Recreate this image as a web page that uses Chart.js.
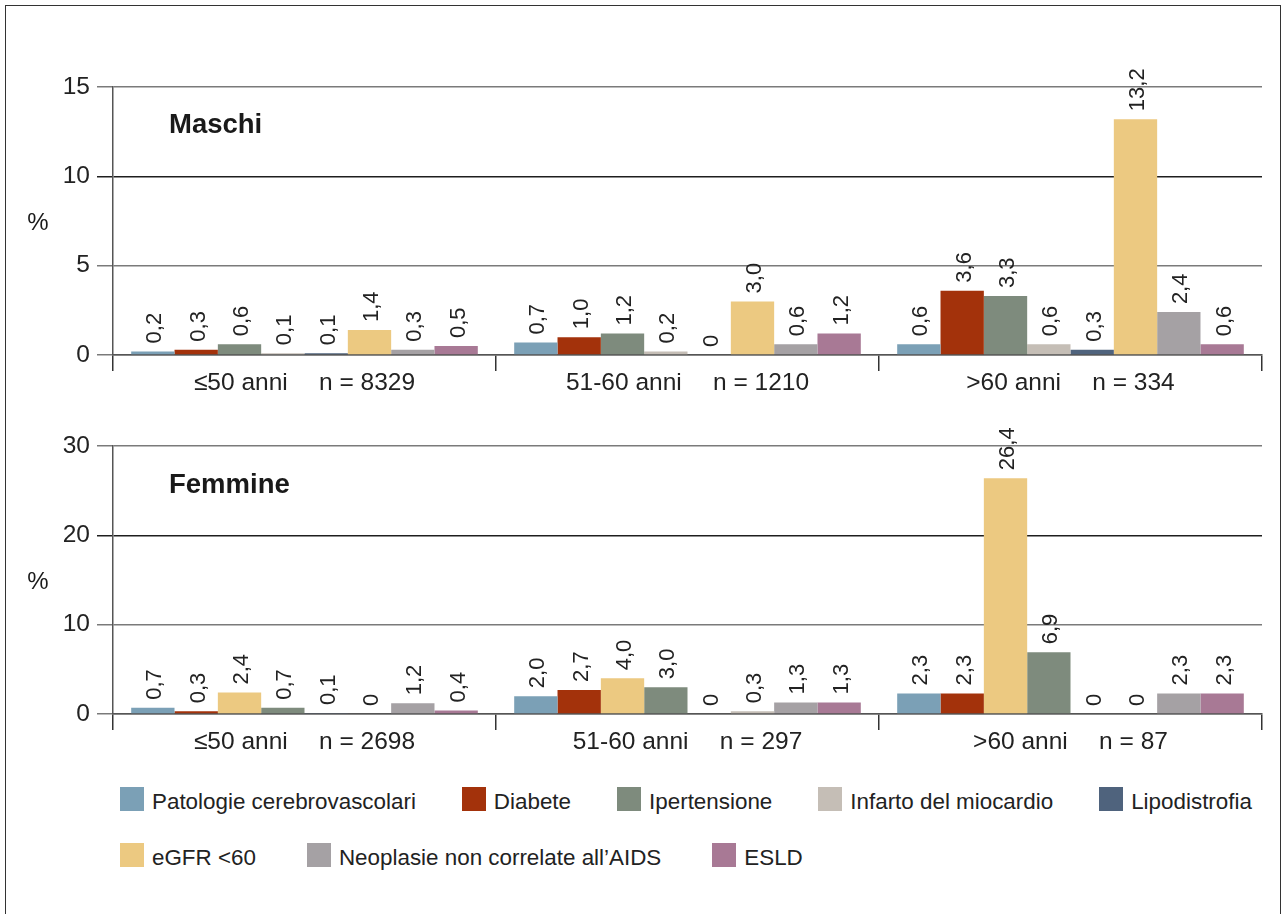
<!DOCTYPE html>
<html lang="it">
<head>
<meta charset="utf-8">
<title>Comorbidità per sesso ed età</title>
<script src="https://cdn.jsdelivr.net/npm/chart.js@4.4.1/dist/chart.umd.min.js"></script>
<style>
  html, body { margin: 0; padding: 0; background: #fff; overflow: hidden; }
  body { width: 1282px; height: 914px; position: relative; font-family: "Liberation Sans", Arial, Helvetica, sans-serif; color: #222; }
  .frame { position: absolute; left: 5px; top: 5px; width: 1276px; height: 1000px; border: 1.5px solid #333; box-sizing: border-box; }
  .box { position: absolute; left: 0; width: 1282px; }
  #boxM { top: 0; height: 400px; }
  #boxF { top: 400px; height: 360px; }
  #legend { position: absolute; left: 120px; top: 787px; width: 1150px; display: flex; flex-wrap: wrap; column-gap: 46px; row-gap: 32px; }
  #legend .item { display: flex; align-items: flex-start; height: 24px; font-size: 22.4px; line-height: 24px; white-space: nowrap; }
  #legend .swatch { width: 24px; height: 24px; margin-right: 8px; }
  #legend .txt { position: relative; top: 3px; }
  #legend .item.r2 { margin-right: 5px; }
</style>
</head>
<body>
<div class="frame"></div>
<div class="box" id="boxM"><canvas id="chartM"></canvas></div>
<div class="box" id="boxF"><canvas id="chartF"></canvas></div>
<div id="legend"></div>

<script>
// fasce d'età e numerosità
const ageGroups = ["≤50 anni", "51-60 anni", ">60 anni"];
const nMaschi = [8329, 1210, 334];
const nFemmine = [2698, 297, 87];

const diseases = [
  "Patologie cerebrovascolari",
  "Diabete",
  "Ipertensione",
  "Infarto del miocardio",
  "Lipodistrofia",
  "eGFR <60",
  "Neoplasie non correlate all’AIDS",
  "ESLD"
];
const colors = ["#7ba0b6", "#a3320b", "#7e8b7d", "#c5beb6", "#4f637d", "#ecc981", "#a5a1a4", "#a87995"];

// Maschi (%)
const patologieM = [0.2, 0.7, 0.6];
const diabeteM = [0.3, 1.0, 3.6];
const ipertensioneM = [0.6, 1.2, 3.3];
const infartoM = [0.1, 0.2, 0.6];
const lipodistrofiaM = [0.1, 0, 0.3];
const egfrM = [1.4, 3.0, 13.2];
const neoplasieM = [0.3, 0.6, 2.4];
const esldM = [0.5, 1.2, 0.6];

// Femmine (%)
const patologieF = [0.7, 2.0, 2.3];
const diabeteF = [0.3, 2.7, 2.3];
const ipertensioneF = [0.7, 3.0, 6.9];
const infartoF = [0, 0.3, 0];
const lipodistrofiaF = [0.1, 0, 0];
const egfrF = [2.4, 4.0, 26.4];
const neoplasieF = [1.2, 1.3, 2.3];
const esldF = [0.4, 1.3, 2.3];

const yTicksM = [0, 5, 10, 15];
const yTicksF = [0, 10, 20, 30];

const FONT = '"Liberation Sans", Arial, Helvetica, sans-serif';
Chart.defaults.font.family = FONT;
Chart.defaults.color = "#222";
Chart.defaults.animation = false;

function ds(i, data) {
  return { label: diseases[i], data, backgroundColor: colors[i], borderWidth: 0,
           categoryPercentage: 0.905, barPercentage: 1.0 };
}

function fmt(v) {
  return v === 0 ? "0" : v.toFixed(1).replace(".", ",");
}

// etichette ruotate sopra le barre
const valueLabels = {
  id: "valueLabels",
  afterDatasetsDraw(chart) {
    const ctx = chart.ctx;
    ctx.save();
    ctx.font = "22px " + FONT;
    ctx.fillStyle = "#222";
    ctx.textAlign = "left";
    ctx.textBaseline = "middle";
    chart.data.datasets.forEach((d, di) => {
      chart.getDatasetMeta(di).data.forEach((bar, i) => {
        ctx.save();
        ctx.translate(bar.x + 2.5, bar.y - 8);
        ctx.rotate(-Math.PI / 2);
        ctx.fillText(fmt(d.data[i]), 0, 0);
        ctx.restore();
      });
    });
    ctx.restore();
  }
};

// titolo del pannello e simbolo %
const panelText = {
  id: "panelText",
  afterDraw(chart, args, opts) {
    const ctx = chart.ctx, a = chart.chartArea;
    ctx.save();
    ctx.fillStyle = "#1a1a1a";
    ctx.font = "bold 27.5px " + FONT;
    ctx.textAlign = "left";
    ctx.textBaseline = "alphabetic";
    ctx.fillText(opts.title, a.left + 56, a.top + opts.titleOffset);
    ctx.font = "24px " + FONT;
    ctx.textAlign = "center";
    ctx.textBaseline = "middle";
    ctx.fillText("%", 38, (a.top + a.bottom) / 2 + 2);
    ctx.restore();
  }
};

function makeChart(id, datasets, counts, ticks, title, topPad, xHeight, titleOffset) {
  const yMax = ticks[ticks.length - 1];
  const darkTick = ticks[2];
  return new Chart(document.getElementById(id), {
    type: "bar",
    data: {
      labels: ageGroups.map((g, i) => g + "\u2003 n = " + counts[i]),
      datasets
    },
    options: {
      responsive: true,
      maintainAspectRatio: false,
      layout: { padding: { left: 5, right: 20, top: topPad, bottom: 0 } },
      plugins: {
        legend: { display: false },
        tooltip: { enabled: false },
        panelText: { title, titleOffset }
      },
      scales: {
        x: {
          grid: { drawOnChartArea: false, drawTicks: true, tickLength: 16, offset: true, color: "#333", lineWidth: 1.5 },
          border: { display: true, color: "#555", width: 1.5 },
          ticks: { font: { size: 24.5 }, color: "#222", padding: -2, maxRotation: 0, autoSkip: false },
          afterFit(scale) { scale.height = xHeight; }
        },
        y: {
          min: 0, max: yMax,
          afterBuildTicks(scale) { scale.ticks = ticks.map(v => ({ value: v })); },
          grid: {
            tickLength: 16, lineWidth: 1.5,
            color: c => (c.tick && c.tick.value === darkTick) ? "#1e1e1e" : "#7a7a7a"
          },
          border: { display: true, color: "#555", width: 1.5 },
          ticks: { font: { size: 24.5 }, color: "#222", padding: 7 },
          afterFit(scale) { scale.width = 108; }
        }
      }
    },
    plugins: [valueLabels, panelText]
  });
}

const chartM = makeChart("chartM", [
  ds(0, patologieM), ds(1, diabeteM), ds(2, ipertensioneM), ds(3, infartoM),
  ds(4, lipodistrofiaM), ds(5, egfrM), ds(6, neoplasieM), ds(7, esldM)
], nMaschi, yTicksM, "Maschi", 87, 45, 46);

// nel pannello femminile l'ordine delle barre è diverso
const chartF = makeChart("chartF", [
  ds(0, patologieF), ds(1, diabeteF), ds(5, egfrF), ds(2, ipertensioneF),
  ds(4, lipodistrofiaF), ds(3, infartoF), ds(6, neoplasieF), ds(7, esldF)
], nFemmine, yTicksF, "Femmine", 46, 46, 47);

// legenda comune costruita dalle serie del grafico maschile
const legendEl = document.getElementById("legend");
Chart.defaults.plugins.legend.labels.generateLabels(chartM).forEach((item, i) => {
  const div = document.createElement("div");
  div.className = i >= 5 ? "item r2" : "item";
  const sw = document.createElement("span");
  sw.className = "swatch";
  sw.style.background = item.fillStyle;
  const tx = document.createElement("span");
  tx.className = "txt";
  tx.textContent = item.text;
  div.appendChild(sw);
  div.appendChild(tx);
  legendEl.appendChild(div);
});
</script>
</body>
</html>
